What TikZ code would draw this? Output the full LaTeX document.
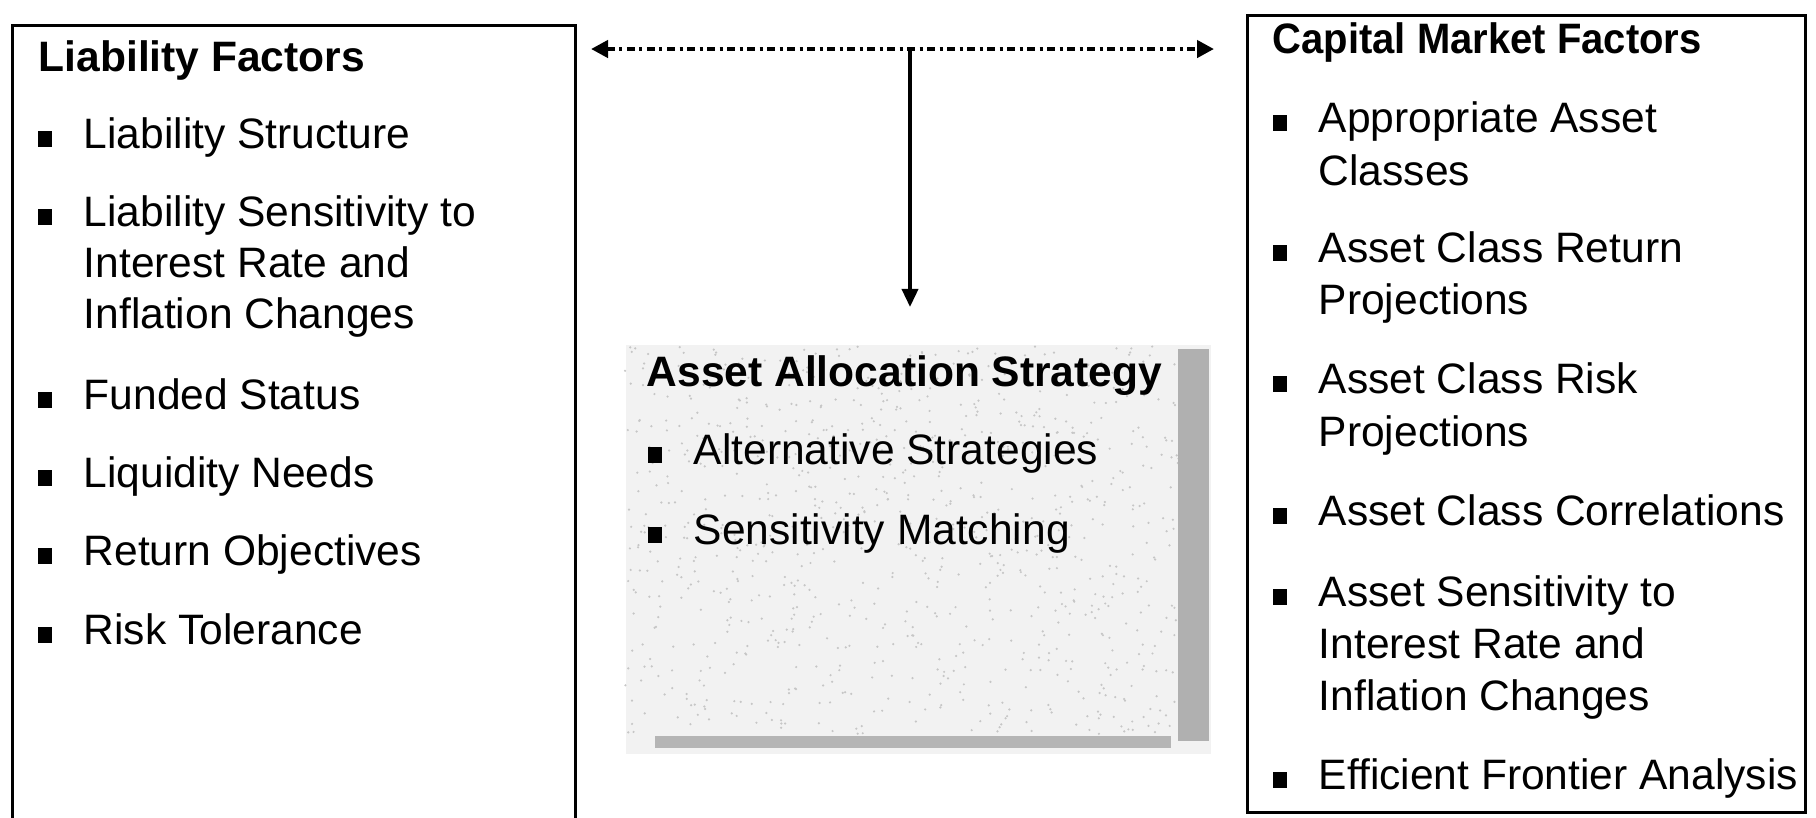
\documentclass[tikz,border=0pt]{standalone}
\usepackage{fontspec}
\setmainfont{Liberation Sans}
\usetikzlibrary{arrows.meta}
\begin{document}
\begin{tikzpicture}[x=0.01cm,y=-0.01cm,
  txt/.style={anchor=base west, inner sep=0pt, font=\fontsize{12.1}{14.5}\selectfont},
  head/.style={anchor=base west, inner sep=0pt, font=\fontsize{12.1}{14.5}\selectfont\bfseries},
  bul/.style={fill=black, draw=none, minimum width=0.14cm, minimum height=0.16cm, inner sep=0pt, anchor=south},
  frame/.style={draw=black, line width=0.8pt, fill=none, inner sep=0pt, anchor=north west},
  dashdot/.style={line width=1.2pt, dash pattern=on 0.08cm off 0.045cm on 0.03cm off 0.045cm},
  tip/.style={line width=1pt},
  speck/.style={fill=gray!45, draw=none}
]
\useasboundingbox (0,0) rectangle (1816,817);

% frames
\node[frame, minimum width=5.63cm, minimum height=8.2cm] (lbox) at (11,24) {};
\node[frame, minimum width=5.58cm, minimum height=7.97cm] (rbox) at (1246,14) {};

% middle box
\node[fill=gray!10, draw=none, inner sep=0pt, minimum width=5.85cm, minimum height=4.09cm, anchor=north west] (mid) at (625,344) {};
\pgfmathsetseed{11}
\foreach \i in {1,...,900}{
  \pgfmathsetmacro{\px}{625+555*rnd}
  \pgfmathsetmacro{\py}{346+388*rnd}
  \fill[speck] (\px,\py) circle (0.35pt);
}
\node[fill=gray!62, draw=none, inner sep=0pt, minimum width=0.31cm, minimum height=3.92cm, anchor=north east] (mshade) at (1210,348) {};
\node[fill=gray!58, draw=none, inner sep=0pt, minimum width=5.16cm, minimum height=0.12cm, anchor=north west] (bshade) at (654,735) {};

% connectors
\coordinate (la) at (591,49);
\coordinate (ra) at (1214,49);
\coordinate (junc) at (910,49);
\draw[dashdot, {Triangle[length=0.17cm,width=0.17cm]}-{Triangle[length=0.17cm,width=0.17cm]}] (la) -- (ra);
\draw[tip, -{Triangle[length=0.18cm,width=0.16cm]}, shorten >=0.37cm] (junc) -- (junc |- mid.north);

% left box text
\node[head] (lh) at (38,71) {Liability Factors};
\node[bul] (lb1) at (45,148) {}; \node[txt] (l1) at (83,148) {Liability Structure};
\node[bul] (lb2) at (45,226) {}; \node[txt] (l2a) at (83,226) {Liability Sensitivity to};
\node[txt] (l2b) at (83,277) {Interest Rate and};
\node[txt] (l2c) at (83,328) {Inflation Changes};
\node[bul] (lb3) at (45,409) {}; \node[txt] (l3) at (83,409) {Funded Status};
\node[bul] (lb4) at (45,487) {}; \node[txt] (l4) at (83,487) {Liquidity Needs};
\node[bul] (lb5) at (45,565) {}; \node[txt] (l5) at (83,565) {Return Objectives};
\node[bul] (lb6) at (45,644) {}; \node[txt] (l6) at (83,644) {Risk Tolerance};

% middle text
\node[head] (mh) at (646,386) {Asset Allocation Strategy};
\node[bul] (mb1) at (655,464) {}; \node[txt] (m1) at (693,464) {Alternative Strategies};
\node[bul] (mb2) at (655,544) {}; \node[txt] (m2) at (693,544) {Sensitivity Matching};

% right text
\node[head] (rh) at (1272,53) {\scalebox{0.94}[1]{Capital Market Factors}};
\node[bul] (rb1) at (1280,132) {}; \node[txt] (r1a) at (1318,132) {Appropriate Asset};
\node[txt] (r1b) at (1318,185) {Classes};
\node[bul] (rb2) at (1280,262) {}; \node[txt] (r2a) at (1318,262) {Asset Class Return};
\node[txt] (r2b) at (1318,314) {Projections};
\node[bul] (rb3) at (1280,393) {}; \node[txt] (r3a) at (1318,393) {Asset Class Risk};
\node[txt] (r3b) at (1318,446) {Projections};
\node[bul] (rb4) at (1280,525) {}; \node[txt] (r4) at (1318,525) {Asset Class Correlations};
\node[bul] (rb5) at (1280,606) {}; \node[txt] (r5a) at (1318,606) {Asset Sensitivity to};
\node[txt] (r5b) at (1318,658) {Interest Rate and};
\node[txt] (r5c) at (1318,710) {Inflation Changes};
\node[bul] (rb6) at (1280,789) {}; \node[txt] (r6) at (1318,789) {Efficient Frontier Analysis};
\end{tikzpicture}
\end{document}
